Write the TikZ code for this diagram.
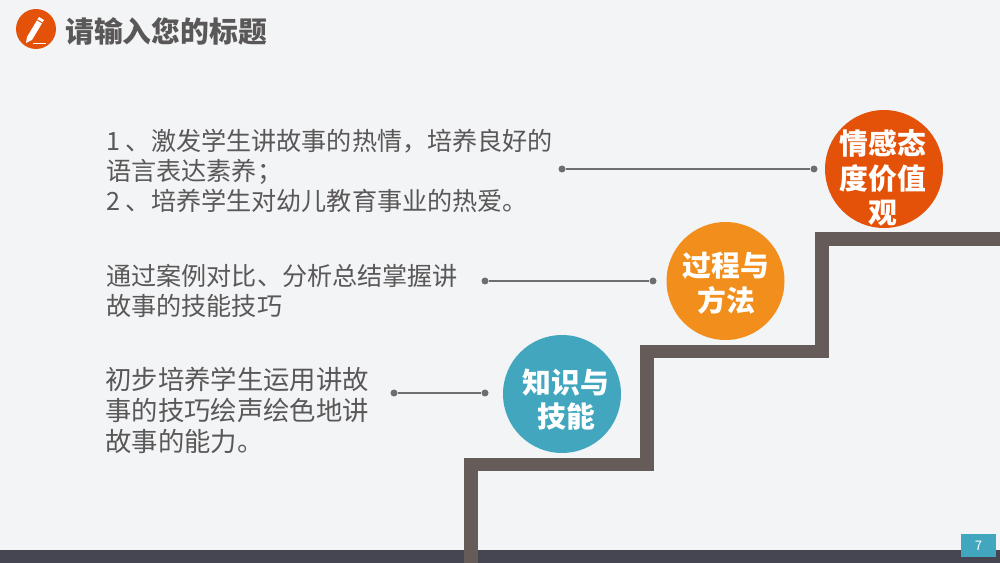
\documentclass[tikz,border=0pt]{standalone}
\usepackage{fontspec}
\setmainfont{Noto Sans CJK SC}
\usetikzlibrary{positioning}
\definecolor{pagebg}{HTML}{F2F4F6}
\definecolor{stairgray}{HTML}{655B58}
\definecolor{footgray}{HTML}{454652}
\definecolor{textgray}{HTML}{595757}
\definecolor{linegray}{HTML}{6E6E70}
\definecolor{myorange}{HTML}{E4520A}
\definecolor{myamber}{HTML}{F28F1C}
\definecolor{myteal}{HTML}{42A7BE}
\tikzset{
  ball/.style={circle,minimum size=2.36cm,inner sep=0pt},
  balltext/.style={text=white,align=center,inner sep=0pt,font=\fontsize{16.4}{19.8}\selectfont\bfseries},
  bodytext/.style={anchor=north west,align=left,inner sep=0pt,text=textgray,font=\fontsize{14.3}{17.2}\selectfont},
  dot/.style={circle,fill=linegray,minimum size=0.14cm,inner sep=0pt},
}
\begin{document}
\begin{tikzpicture}[x=0.02cm,y=-0.02cm]
\useasboundingbox (0,0) rectangle (1000,563);
\fill[pagebg] (0,0) rectangle (1000,563);
\fill[footgray] (0,550) rectangle (1000,563);
\draw[stairgray,line width=0.27cm] (471,563) -- (471,464.5) -- (647,464.5) -- (647,351.5) -- (822,351.5) -- (822,239) -- (1000,239);
% page number
\node[fill=myteal,text=white,minimum width=0.71cm,minimum height=0.45cm,inner sep=0pt,font=\fontsize{7.5}{9}\selectfont] (pagenum) at (978.5,545.5) {7};
% title icon
\node[circle,fill=myorange,minimum size=0.8cm,inner sep=0pt] (icon) at (36,29) {};
\fill[white] (27,37) -- (39,17) -- (44,20) -- (32,40) -- (26,43) -- cycle;
\draw[myorange,line width=0.02cm] (37.5,20) -- (42.5,23);
\draw[white,line width=0.03cm] (33,43.5) -- (46,43.5);
\node[anchor=west,inner sep=0pt,text=textgray,font=\fontsize{16.4}{20}\selectfont\bfseries] (title) at (65,31) {请输入您的标题};
% text blocks
\node[bodytext] (text1) at (106,128.5) {1 、激发学生讲故事的热情，培养良好的\\语言表达素养；\\2 、培养学生对幼儿教育事业的热爱。};
\node[bodytext] (text2) at (106,263.5) {通过案例对比、分析总结掌握讲\\故事的技能技巧};
\node[bodytext,font=\fontsize{15}{17.6}\selectfont] (text3) at (105,367) {初步培养学生运用讲故\\事的技巧绘声绘色地讲\\故事的能力。};
% balls
\node[ball,fill=myorange] (ball1) at (884,169) {};
\node[ball,fill=myamber] (ball2) at (725.5,281) {};
\node[ball,fill=myteal] (ball3) at (562,394) {};
\node[balltext] (label1) at (883,178) {情感态\\度价值\\观};
\node[balltext] (label2) at (726,283.5) {过程与\\方法};
\node[balltext] (label3) at (566,399.5) {知识与\\技能};
% connectors
\node[dot] (a1) at (562,169) {};
\node[dot] (b1) at (814,169) {};
\node[dot] (a2) at (485,281) {};
\node[dot] (b2) at (653,281) {};
\node[dot] (a3) at (394,393) {};
\node[dot] (b3) at (485,393) {};
\foreach \i in {1,2,3}
  \draw[linegray,line width=0.025cm] (a\i) -- (b\i);
\end{tikzpicture}
\end{document}
